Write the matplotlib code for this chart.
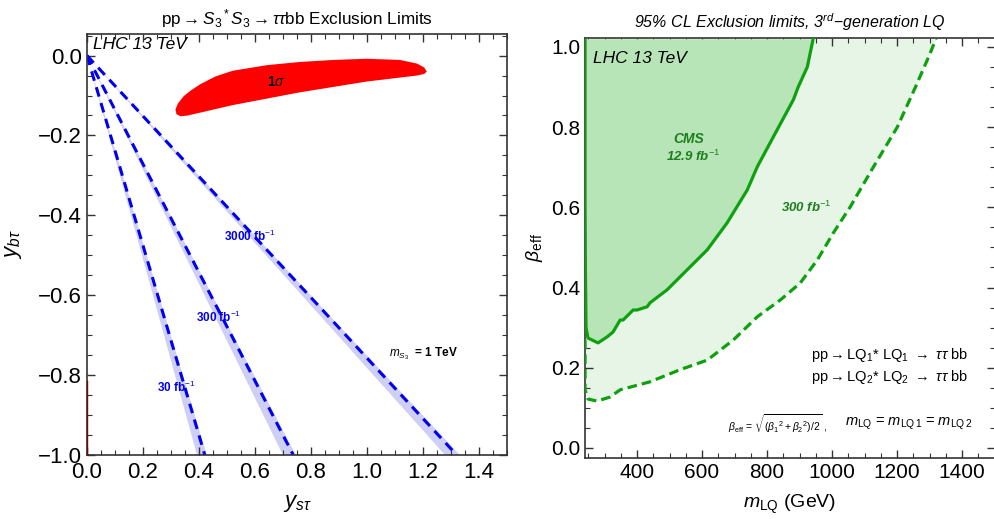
import numpy as np
import matplotlib
matplotlib.use("Agg")
import matplotlib.pyplot as plt
from matplotlib.ticker import MultipleLocator

plt.rcParams['font.family'] = ['Liberation Sans', 'DejaVu Sans']
plt.rcParams['mathtext.fontset'] = 'custom'
plt.rcParams['mathtext.rm'] = 'Liberation Sans'
plt.rcParams['mathtext.it'] = 'Liberation Sans:italic'
plt.rcParams['mathtext.bf'] = 'Liberation Sans:bold'

# ---- left panel data: projected exclusion lines y_btau vs y_stau (reach at y_btau = -1)
lumi_labels = ["30 fb$^{-1}$", "300 fb$^{-1}$", "3000 fb$^{-1}$"]
x_at_minus1 = [0.421, 0.737, 1.321]     # dashed line end at y_btau = -1
band_lo = [0.393, 0.700, 1.279]         # band edges at y_btau = -1
band_hi = [0.428, 0.746, 1.332]
label_xy = [(0.25, -0.83), (0.39, -0.655), (0.49, -0.453)]

# 1 sigma preferred region (outline)
sig_x = [0.316, 0.325, 0.345, 0.37, 0.404, 0.46, 0.521, 0.643, 0.761, 0.879, 1.0, 1.118, 1.179, 1.205, 1.214,
         1.205, 1.179, 1.0, 0.761, 0.521, 0.404, 0.36, 0.335, 0.32]
sig_y = [-0.135, -0.12, -0.102, -0.088, -0.072, -0.052, -0.038, -0.024, -0.016, -0.011, -0.008, -0.011,
         -0.020, -0.030, -0.040, -0.046, -0.050, -0.065, -0.092, -0.124, -0.143, -0.15, -0.152, -0.147]

# ---- right panel data: beta_eff vs m_LQ
cms_m = [240, 240, 241, 243, 249, 280, 308, 326, 348, 357, 388, 400, 431, 440, 492, 554, 616, 677,
         739, 770, 831, 881, 896, 924, 942]
cms_b = [1.02, 0.62, 0.45, 0.30, 0.274, 0.262, 0.277, 0.289, 0.319, 0.319, 0.344, 0.344, 0.352, 0.362,
         0.394, 0.444, 0.494, 0.561, 0.643, 0.701, 0.793, 0.868, 0.90, 0.95, 1.02]
hl_m = [240, 240, 249, 277, 317, 348, 440, 532, 616, 696, 770, 841, 902, 955, 1004, 1056, 1127, 1201,
        1257, 1300, 1320]
hl_b = [0.27, 0.145, 0.122, 0.117, 0.127, 0.145, 0.165, 0.195, 0.219, 0.269, 0.327, 0.369, 0.411,
        0.469, 0.536, 0.601, 0.70, 0.80, 0.90, 0.98, 1.02]

blue = "#0000ee"
band = "#cfcff5"
green = "#0fa00f"
dgreen = "#1e7e1e"

fig = plt.figure(figsize=(9.95, 5.19), dpi=100)
ax1 = fig.add_axes([0.0874, 0.1233, 0.422, 0.8112])
ax2 = fig.add_axes([0.588, 0.1175, 0.4115, 0.8093])

# left panel
for xe, lo, hi in zip(x_at_minus1, band_lo, band_hi):
    ax1.fill([0, lo, hi], [0, -1, -1], color=band, lw=0, zorder=1)
    ax1.plot([0, xe], [0, -1], color=blue, ls=(0, (3.2, 2.2)), lw=2.2, zorder=2)
for lab, (lx, ly) in zip(lumi_labels, label_xy):
    ax1.text(lx, ly, lab, color=blue, fontsize=8.5, fontweight="bold", va="center")
ax1.fill(sig_x, sig_y, color="#ff0000", lw=0, zorder=3)
ax1.text(0.675, -0.067, r"$\mathbf{1}\sigma$", fontsize=10, ha="center", va="center", zorder=4)
ax1.plot([0.0015, 0.0015], [-0.815, -1.0], color="#7a0000", lw=1.0, zorder=4)
ax1.text(1.08, -0.747, r"$m_{S_3}$  = 1 TeV", fontsize=8.5, fontweight="bold", va="center")
ax1.text(0.02, 0.047, "LHC 13 TeV", fontsize=12.5, style="italic", va="top")
ax1.set_xlim(0, 1.5)
ax1.set_ylim(-1.0, 0.054)
ax1.set_title(r"pp$\rightarrow$$S_3$$^*$$S_3$$\rightarrow$$\tau\tau$bb Exclusion Limits", fontsize=12.3, pad=7)
ax1.set_xlabel(r"$y_{s\tau}$", fontsize=16, labelpad=7)
ax1.set_ylabel(r"$y_{b\tau}$", fontsize=16, labelpad=10)
ax1.xaxis.set_major_locator(MultipleLocator(0.2))
ax1.xaxis.set_minor_locator(MultipleLocator(0.05))
ax1.yaxis.set_major_locator(MultipleLocator(0.2))
ax1.yaxis.set_minor_locator(MultipleLocator(0.05))
ax1.xaxis.set_major_formatter(plt.FuncFormatter(lambda v, p: f"{v:.1f}".replace("-", "\u2212")))
ax1.yaxis.set_major_formatter(plt.FuncFormatter(lambda v, p: f"{v:.1f}".replace("-", "\u2212")))

# right panel
ax2.fill_betweenx(hl_b, 240, hl_m, color="#e6f5e6", lw=0, zorder=1)
ax2.fill_betweenx(cms_b, 240, cms_m, color="#b7e5b7", lw=0, zorder=2)
ax2.plot(cms_m, cms_b, color=green, lw=2.3, zorder=3)
ax2.plot(hl_m, hl_b, color=green, lw=2.3, ls=(0, (3, 1.6)), zorder=3)
ax2.text(560, 0.77, "CMS", color=dgreen, fontsize=10, fontweight="bold", style="italic", ha="center", va="center")
ax2.text(573, 0.726, r"12.9 fb$^{-1}$", color=dgreen, fontsize=9.5, fontweight="bold", style="italic",
         ha="center", va="center")
ax2.text(921, 0.60, r"300 fb$^{-1}$", color=dgreen, fontsize=9.5, fontweight="bold", style="italic",
         ha="center", va="center")
ax2.text(265, 0.99, "LHC 13 TeV", fontsize=12.5, style="italic", va="top")
ax2.text(1420, 0.232, r"pp$\rightarrow$LQ$_1$* LQ$_1$ $\rightarrow$ $\tau\tau$ bb", fontsize=10.5, ha="right", va="center")
ax2.text(1420, 0.177, r"pp$\rightarrow$LQ$_2$* LQ$_2$ $\rightarrow$ $\tau\tau$ bb", fontsize=10.5, ha="right", va="center")
ax2.text(831, 0.06, r"$\beta_{\rm eff}$ = $\sqrt{(\beta_1{}^2 + \beta_2{}^2)/2}$ ,", fontsize=7.5, ha="center", va="center")
ax2.text(1432, 0.06, r"$m_{\rm LQ}$ = $m_{\rm LQ\,1}$ = $m_{\rm LQ\,2}$", fontsize=10.5, ha="right", va="center")
ax2.set_xlim(240, 1500)
ax2.set_ylim(-0.025, 1.022)
ax2.set_title(r"95% CL Exclusion limits, 3$^{rd}$$-$generation LQ", fontsize=11.5, style="italic", pad=7)
ax2.set_xlabel(r"$m_{\rm LQ}$ (GeV)", fontsize=14, labelpad=8)
ax2.set_ylabel(r"$\beta_{\rm eff}$", fontsize=14, labelpad=4)
ax2.xaxis.set_major_locator(MultipleLocator(200))
ax2.xaxis.set_minor_locator(MultipleLocator(50))
ax2.yaxis.set_major_locator(MultipleLocator(0.2))
ax2.yaxis.set_minor_locator(MultipleLocator(0.05))
ax2.yaxis.set_major_formatter(plt.FuncFormatter(lambda v, p: f"{v:.1f}"))

for ax, ls in ((ax1, 16), (ax2, 15)):
    ax.tick_params(which="both", direction="in", top=True, right=True, labelsize=ls, colors="#333333",
                   labelcolor="black", pad=3.5)
    ax.tick_params(which="major", length=6, width=1)
    ax.tick_params(which="minor", length=3.5, width=0.8)
    for s in ax.spines.values():
        s.set_color("#333333")
        s.set_linewidth(1.2)
ax1.tick_params(axis="x", pad=5)

fig.savefig("out.png", dpi=100)
